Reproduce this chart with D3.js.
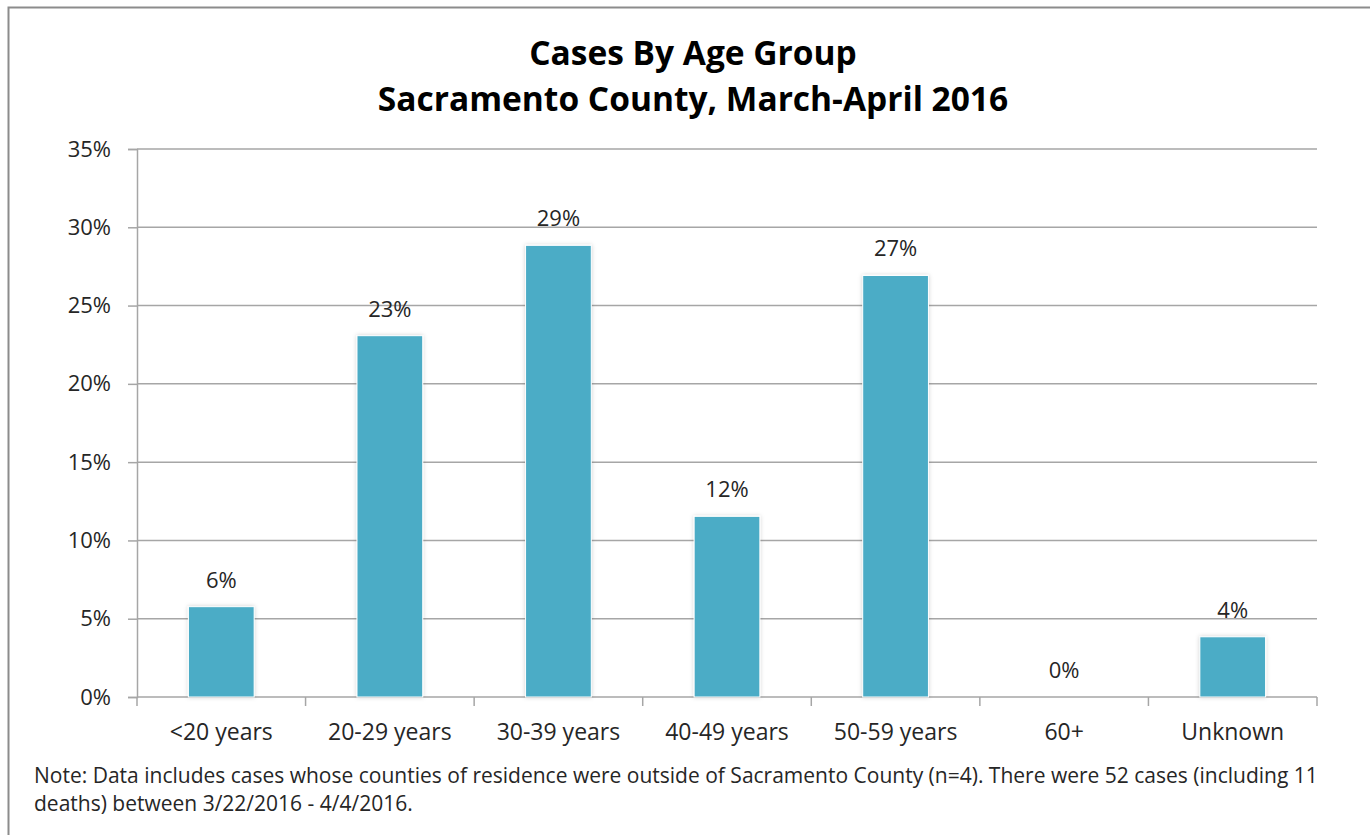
<!DOCTYPE html>
<html>
<head>
<meta charset="utf-8">
<script src="https://cdn.jsdelivr.net/npm/d3@7"></script>
<style>
    body { margin: 0; background: #fff; }
    svg { display: block; font-family: "Open Sans", sans-serif; }
</style>
</head>
<body>
<svg id="chart" width="1370" height="835"></svg>
<script>
const categories = ["<20 years", "20-29 years", "30-39 years", "40-49 years", "50-59 years", "60+", "Unknown"];
const caseCounts = [3, 12, 15, 6, 14, 0, 2];
const totalCases = 52;
const yTicks = [0, 0.05, 0.10, 0.15, 0.20, 0.25, 0.30, 0.35];
const titleLines = ["Cases By Age Group", "Sacramento County, March-April 2016"];
const noteLines = [
    "Note: Data includes cases whose counties of residence were outside of Sacramento County (n=4). There were 52 cases (including 11",
    "deaths) between 3/22/2016 - 4/4/2016."
];

const data = categories.map((c, i) => ({ key: c, value: caseCounts[i] / totalCases }));

const svg = d3.select("#chart");
const MARGIN = { left: 137, right: 1317, top: 149, bottom: 697 };
const GRID = "#a6a6a6";
const TEXT = "#262626";
const FONT = "'Open Sans', sans-serif";

// outer frame (right and bottom fall outside the picture)
svg.append("rect")
    .attr("x", 8.5).attr("y", 7.5)
    .attr("width", 1400).attr("height", 900)
    .attr("fill", "none")
    .attr("stroke", "#8c8c8c")
    .attr("stroke-width", 2);

const defs = svg.append("defs");
const shadow = defs.append("filter").attr("id", "shadow")
    .attr("x", "-20%").attr("y", "-20%").attr("width", "140%").attr("height", "140%");
shadow.append("feDropShadow")
    .attr("dx", 0).attr("dy", 0).attr("stdDeviation", 2)
    .attr("flood-color", "#000").attr("flood-opacity", 0.18);

const x = d3.scaleBand()
    .domain(categories)
    .range([MARGIN.left, MARGIN.right])
    .paddingInner(0.61)
    .paddingOuter(0.305);

const xOuter = d3.scaleBand()
    .domain(categories)
    .range([MARGIN.left, MARGIN.right]);

const y = d3.scaleLinear()
    .domain([0, 0.35])
    .range([MARGIN.bottom, MARGIN.top]);

// title
svg.append("g")
    .selectAll("text")
    .data(titleLines)
    .join("text")
    .attr("x", 693)
    .attr("y", (d, i) => 65 + i * 46)
    .attr("text-anchor", "middle")
    .attr("font-size", 33.5)
    .attr("font-weight", "bold")
    .attr("fill", "#000")
    .text(d => d);

// y axis with gridlines
const yAxis = svg.append("g")
    .attr("transform", `translate(${ MARGIN.left }, 0)`)
    .call(d3.axisLeft(y)
        .tickValues(yTicks)
        .tickFormat(d3.format(".0%"))
        .tickSize(9)
        .tickPadding(17));
yAxis.select(".domain").attr("stroke", GRID).attr("stroke-width", 1.5);
yAxis.selectAll(".tick line").attr("stroke", GRID).attr("stroke-width", 1.5);
yAxis.selectAll(".tick text")
    .attr("font-size", 22)
    .attr("font-family", FONT)
    .attr("fill", TEXT);

svg.append("g")
    .selectAll("line")
    .data(yTicks.filter(d => d > 0))
    .join("line")
    .attr("x1", MARGIN.left).attr("x2", MARGIN.right)
    .attr("y1", d => y(d)).attr("y2", d => y(d))
    .attr("stroke", GRID)
    .attr("stroke-width", 1.5);

// x axis: ticks at category boundaries
const xAxisG = svg.append("g");
xAxisG.append("line")
    .attr("x1", MARGIN.left).attr("x2", MARGIN.right)
    .attr("y1", MARGIN.bottom).attr("y2", MARGIN.bottom)
    .attr("stroke", GRID).attr("stroke-width", 1.5);
xAxisG.selectAll(".xtick")
    .data(categories.concat([null]))
    .join("line")
    .attr("class", "xtick")
    .attr("x1", (d, i) => MARGIN.left + i * xOuter.step())
    .attr("x2", (d, i) => MARGIN.left + i * xOuter.step())
    .attr("y1", MARGIN.bottom)
    .attr("y2", MARGIN.bottom + 9)
    .attr("stroke", GRID).attr("stroke-width", 1.5);
xAxisG.selectAll(".xlabel")
    .data(categories)
    .join("text")
    .attr("class", "xlabel")
    .attr("x", d => xOuter(d) + xOuter.bandwidth() / 2)
    .attr("y", 740)
    .attr("text-anchor", "middle")
    .attr("font-size", 23)
    .attr("fill", TEXT)
    .text(d => d);

// bars
svg.append("g")
    .selectAll("rect")
    .data(data)
    .join("rect")
    .attr("x", d => x(d.key))
    .attr("y", d => y(d.value))
    .attr("width", x.bandwidth())
    .attr("height", d => y(0) - y(d.value))
    .attr("fill", "#4bacc6")
    .attr("stroke", "#fff")
    .attr("stroke-width", 1)
    .attr("filter", "url(#shadow)");

// value labels
svg.append("g")
    .selectAll("text")
    .data(data)
    .join("text")
    .attr("x", d => x(d.key) + x.bandwidth() / 2)
    .attr("y", d => y(d.value) - 19)
    .attr("text-anchor", "middle")
    .attr("font-size", 22)
    .attr("fill", TEXT)
    .text(d => d3.format(".0%")(d.value));

// note
svg.append("g")
    .selectAll("text")
    .data(noteLines)
    .join("text")
    .attr("x", 34)
    .attr("y", (d, i) => 783 + i * 28)
    .attr("font-size", 21)
    .attr("fill", TEXT)
    .text(d => d);
</script>
</body>
</html>
